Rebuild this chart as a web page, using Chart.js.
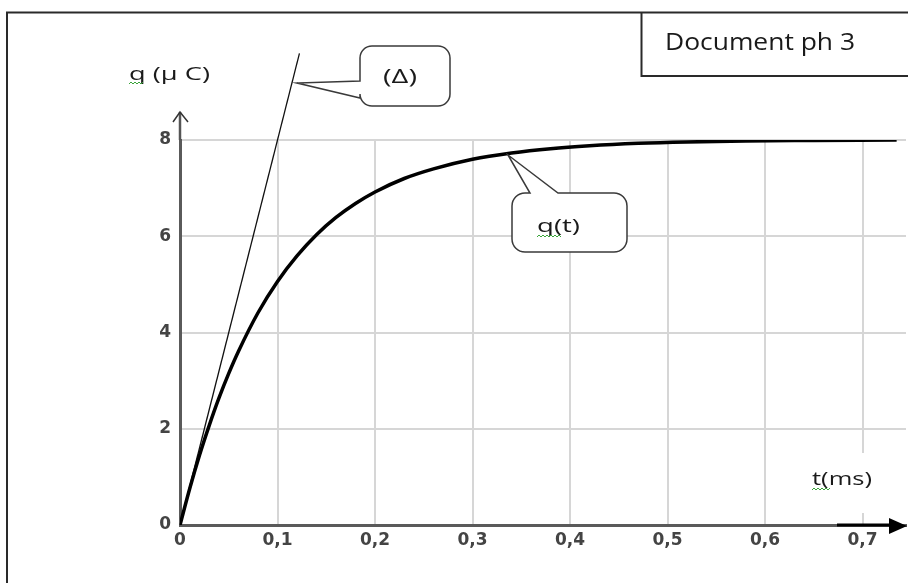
<!DOCTYPE html>
<html>
<head>
<meta charset="utf-8">
<script src="https://cdn.jsdelivr.net/npm/chart.js@4.4.0/dist/chart.umd.min.js"></script>
<style>
  html, body { margin: 0; padding: 0; background: #fff; }
  #c { display: block; }
</style>
</head>
<body>
<canvas id="c" width="908" height="583"></canvas>
<script>
// DATA
const tValues = [0, 0.01, 0.02, 0.03, 0.04, 0.05, 0.06, 0.08, 0.10, 0.12, 0.14, 0.16, 0.18, 0.20, 0.23, 0.26, 0.30, 0.34, 0.38, 0.42, 0.47, 0.52, 0.58, 0.65, 0.735];
const qValues = [0, 0.76, 1.45, 2.07, 2.64, 3.15, 3.61, 4.41, 5.06, 5.59, 6.03, 6.39, 6.68, 6.92, 7.20, 7.40, 7.60, 7.73, 7.82, 7.88, 7.93, 7.96, 7.98, 7.99, 8.0];
const tangentT = [0, 0.1225];
const tangentQ = [0, 9.8];
const xTickValues = [0, 0.1, 0.2, 0.3, 0.4, 0.5, 0.6, 0.7];
const xTickLabels = ["0", "0,1", "0,2", "0,3", "0,4", "0,5", "0,6", "0,7"];
const yTickValues = [0, 2, 4, 6, 8];
const yTickLabels = ["0", "2", "4", "6", "8"];

const curvePts = tValues.map((t, i) => ({ x: t, y: qValues[i] }));
const tangentPts = tangentT.map((t, i) => ({ x: t, y: tangentQ[i] }));

// text squeezed/stretched to a given width
function fitText(ctx, str, left, base, w, font, color) {
    ctx.save();
    ctx.font = font;
    const m = ctx.measureText(str).width;
    ctx.translate(left, base);
    ctx.scale(w / m, 1);
    ctx.fillStyle = color;
    ctx.textAlign = "left";
    ctx.textBaseline = "alphabetic";
    ctx.fillText(str, 0, 0);
    ctx.restore();
}

function squiggle(ctx, x0, x1, y) {
    ctx.save();
    ctx.strokeStyle = "#3aa53a";
    ctx.lineWidth = 1;
    ctx.beginPath();
    let up = true;
    ctx.moveTo(x0, y);
    for (let x = x0 + 2; x <= x1; x += 2) {
        ctx.lineTo(x, up ? y - 2 : y);
        up = !up;
    }
    ctx.stroke();
    ctx.restore();
}

function roundBox(ctx, l, t, r, b, rad, pointer) {
    ctx.beginPath();
    ctx.moveTo(l + rad, t);
    if (pointer && pointer.side === "top") {
        ctx.lineTo(pointer.a, t);
        ctx.lineTo(pointer.tx, pointer.ty);
        ctx.lineTo(pointer.b, t);
    }
    ctx.lineTo(r - rad, t);
    ctx.arcTo(r, t, r, t + rad, rad);
    ctx.lineTo(r, b - rad);
    ctx.arcTo(r, b, r - rad, b, rad);
    ctx.lineTo(l + rad, b);
    ctx.arcTo(l, b, l, b - rad, rad);
    if (pointer && pointer.side === "left") {
        ctx.lineTo(l, pointer.b);
        ctx.lineTo(pointer.tx, pointer.ty);
        ctx.lineTo(l, pointer.a);
    }
    ctx.lineTo(l, t + rad);
    ctx.arcTo(l, t, l + rad, t, rad);
    ctx.closePath();
    ctx.fillStyle = "#fff";
    ctx.fill();
    ctx.strokeStyle = "#3a3a3a";
    ctx.lineWidth = 1.5;
    ctx.stroke();
}

const decorations = {
    id: "decorations",
    afterDraw(chart) {
        const ctx = chart.ctx;
        const xs = chart.scales.x, ys = chart.scales.y;
        const x0 = xs.getPixelForValue(0);
        const y0 = ys.getPixelForValue(0);
        const yTop = ys.getPixelForValue(8);

        // y axis arrow
        ctx.save();
        ctx.strokeStyle = "#555";
        ctx.lineWidth = 2.5;
        ctx.beginPath();
        ctx.moveTo(x0, yTop);
        ctx.lineTo(x0, 112);
        ctx.stroke();
        ctx.lineWidth = 1.5;
        ctx.strokeStyle = "#333";
        ctx.beginPath();
        ctx.moveTo(x0 - 7, 122);
        ctx.lineTo(x0, 112);
        ctx.lineTo(x0 + 8, 122);
        ctx.stroke();

        // x axis arrow
        ctx.strokeStyle = "#000";
        ctx.lineWidth = 3;
        ctx.beginPath();
        ctx.moveTo(837, y0);
        ctx.lineTo(892, y0);
        ctx.stroke();
        ctx.fillStyle = "#000";
        ctx.beginPath();
        ctx.moveTo(907, y0 + 1);
        ctx.lineTo(889, y0 - 7);
        ctx.lineTo(889, y0 + 9);
        ctx.closePath();
        ctx.fill();
        ctx.restore();

        // frame and document box
        ctx.save();
        ctx.strokeStyle = "#2a2a2a";
        ctx.lineWidth = 2;
        ctx.beginPath();
        ctx.moveTo(7, 590);
        ctx.lineTo(7, 12.5);
        ctx.lineTo(910, 12.5);
        ctx.moveTo(641.5, 12.5);
        ctx.lineTo(641.5, 76);
        ctx.lineTo(910, 76);
        ctx.stroke();
        ctx.restore();
        fitText(ctx, "Document ph 3", 665, 50, 190, "24px 'Open Sans'", "#1a1a1a");

        // axis titles
        fitText(ctx, "q (\u00b5 C)", 129, 80, 81, "19px 'Open Sans'", "#1a1a1a");
        squiggle(ctx, 129, 143, 84);

        ctx.save();
        ctx.fillStyle = "#fff";
        ctx.fillRect(806, 453, 74, 60);
        ctx.restore();
        fitText(ctx, "t(ms)", 812, 485, 60, "19px 'Open Sans'", "#1a1a1a");
        squiggle(ctx, 812, 830, 490);

        // callouts
        roundBox(ctx, 360, 46, 450, 106, 12, { side: "left", a: 81, b: 98, tx: 297, ty: 83 });
        fitText(ctx, "(\u0394)", 383, 83, 34, "20px 'Open Sans'", "#1a1a1a");

        roundBox(ctx, 512, 193, 627, 252, 13, { side: "top", a: 530, b: 558, tx: 508, ty: 155 });
        fitText(ctx, "q(t)", 537, 232, 43, "19px 'Open Sans'", "#1a1a1a");
        squiggle(ctx, 537, 562, 237);
    }
};

const tickFont = { family: "DejaVu Sans", size: 17, weight: "bold" };

new Chart(document.getElementById("c"), {
    type: "line",
    data: {
        datasets: [
            {
                label: "q(t)",
                data: curvePts,
                borderColor: "#000",
                borderWidth: 3.5,
                pointRadius: 0,
                cubicInterpolationMode: "monotone",
                fill: false
            },
            {
                label: "tangent",
                data: tangentPts,
                borderColor: "#111",
                borderWidth: 1.3,
                pointRadius: 0,
                clip: false,
                fill: false
            }
        ]
    },
    options: {
        responsive: false,
        animation: false,
        events: [],
        layout: { padding: { left: 0, top: 140, right: 2, bottom: 0 } },
        plugins: { legend: { display: false }, tooltip: { enabled: false } },
        scales: {
            x: {
                type: "linear",
                min: 0,
                max: 0.7446,
                afterBuildTicks: s => { s.ticks = xTickValues.map(v => ({ value: v })); },
                afterFit: s => { s.height = 58; },
                ticks: {
                    callback: (v, i) => xTickLabels[i],
                    font: tickFont,
                    color: "#444",
                    padding: 5,
                    maxRotation: 0,
                    autoSkip: false
                },
                grid: {
                    drawTicks: false,
                    lineWidth: 2,
                    color: c => c.tick && c.tick.value === 0 ? "rgba(0,0,0,0)" : "#d6d6d6"
                },
                border: { color: "#5a5a5a", width: 3 }
            },
            y: {
                type: "linear",
                min: 0,
                max: 8,
                afterBuildTicks: s => { s.ticks = yTickValues.map(v => ({ value: v })); },
                afterFit: s => { s.width = 180; },
                ticks: {
                    callback: (v, i) => yTickLabels[i],
                    font: tickFont,
                    color: "#444",
                    padding: 9
                },
                grid: {
                    drawTicks: false,
                    lineWidth: 2,
                    color: c => c.tick && c.tick.value === 0 ? "rgba(0,0,0,0)" : "#d6d6d6"
                },
                border: { color: "#5a5a5a", width: 3 }
            }
        }
    },
    plugins: [decorations]
});
</script>
</body>
</html>
